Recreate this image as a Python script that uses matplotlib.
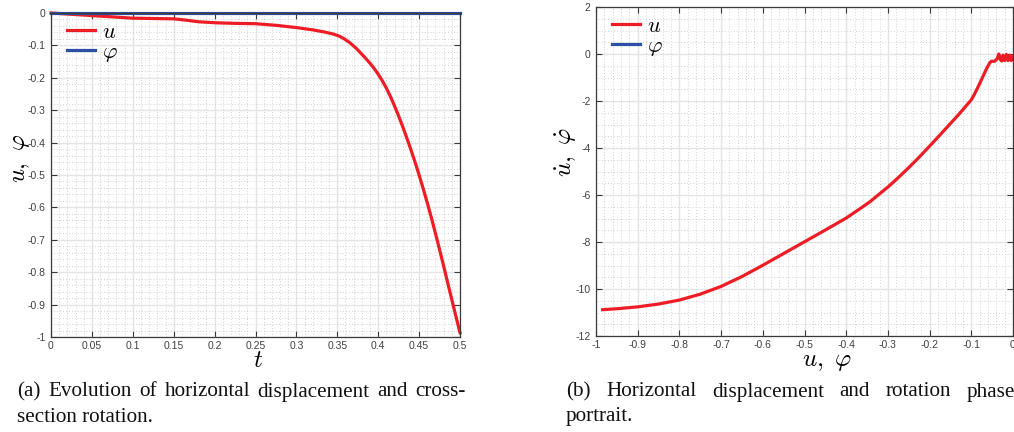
import matplotlib
matplotlib.use("Agg")
import matplotlib.pyplot as plt
from matplotlib.ticker import AutoMinorLocator

plt.rcParams['mathtext.fontset'] = 'cm'

# ---- data: panel (a) time evolution ----
t_vals = [0, 0.025, 0.05, 0.075, 0.1, 0.125, 0.15, 0.165, 0.18, 0.2, 0.225,
          0.25, 0.275, 0.3, 0.32, 0.335, 0.345, 0.352, 0.358, 0.3655, 0.3735,
          0.3818, 0.39, 0.395, 0.4, 0.405, 0.41, 0.415, 0.42, 0.425, 0.43,
          0.435, 0.44, 0.445, 0.45, 0.455, 0.46, 0.465, 0.47, 0.475, 0.48,
          0.485, 0.49, 0.495, 0.5]
u_vals = [0, -0.004, -0.008, -0.012, -0.016, -0.017, -0.018, -0.022, -0.027,
          -0.030, -0.032, -0.033, -0.038, -0.045, -0.052, -0.059, -0.065,
          -0.071, -0.079, -0.092, -0.110, -0.132, -0.155, -0.171, -0.189,
          -0.209, -0.232, -0.258, -0.287, -0.318, -0.351, -0.386, -0.422,
          -0.460, -0.500, -0.542, -0.586, -0.632, -0.680, -0.730, -0.781,
          -0.833, -0.885, -0.936, -0.987]
phi_vals = [0.0] * len(t_vals)

# ---- data: panel (b) phase portrait ----
u_phase = [-0.984, -0.95, -0.9, -0.85, -0.8, -0.75, -0.7, -0.65, -0.6, -0.55,
           -0.5, -0.45, -0.4, -0.37, -0.344, -0.3, -0.275, -0.248, -0.225,
           -0.2, -0.18, -0.162, -0.145, -0.13, -0.115, -0.1, -0.093, -0.086,
           -0.079, -0.072, -0.066, -0.06, -0.056, -0.052, -0.044, -0.038,
           -0.034, -0.030, -0.027, -0.024, -0.020, -0.016, -0.012, -0.008,
           -0.004, 0.0]
udot_phase = [-10.88, -10.84, -10.76, -10.64, -10.47, -10.22, -9.89, -9.47,
              -8.99, -8.49, -7.99, -7.49, -6.98, -6.62, -6.30, -5.66, -5.26,
              -4.80, -4.39, -3.92, -3.54, -3.19, -2.86, -2.57, -2.26, -1.95,
              -1.73, -1.48, -1.22, -0.95, -0.72, -0.51, -0.38, -0.31, -0.31,
              -0.20, 0.0, -0.25, -0.30, -0.05, -0.28, -0.02, -0.28, -0.05,
              -0.28, -0.10]
phi_phase = [0.0, 0.0]
phidot_phase = [0.0, 0.0]

# ---- ticks ----
a_xticks = [0, 0.05, 0.1, 0.15, 0.2, 0.25, 0.3, 0.35, 0.4, 0.45, 0.5]
a_xlabels = ['0', '0.05', '0.1', '0.15', '0.2', '0.25', '0.3', '0.35', '0.4', '0.45', '0.5']
a_yticks = [0, -0.1, -0.2, -0.3, -0.4, -0.5, -0.6, -0.7, -0.8, -0.9, -1]
a_ylabels = ['0', '-0.1', '-0.2', '-0.3', '-0.4', '-0.5', '-0.6', '-0.7', '-0.8', '-0.9', '-1']
b_xticks = [-1, -0.9, -0.8, -0.7, -0.6, -0.5, -0.4, -0.3, -0.2, -0.1, 0]
b_xlabels = ['-1', '-0.9', '-0.8', '-0.7', '-0.6', '-0.5', '-0.4', '-0.3', '-0.2', '-0.1', '0']
b_yticks = [2, 0, -2, -4, -6, -8, -10, -12]
b_ylabels = ['2', '0', '-2', '-4', '-6', '-8', '-10', '-12']

caption_a = ['(a) Evolution of horizontal displacement and cross-', 'section rotation.']
caption_b = ['(b) Horizontal displacement and rotation phase', 'portrait.']

RED = '#ee1c25'
BLUE = '#2c4fa3'
TICKC = '#404040'
SPINEC = '#3a3a3a'

W, H = 1014, 432
fig = plt.figure(figsize=(W / 100, H / 100), dpi=100)
axa = fig.add_axes([51 / W, 95 / H, 409 / W, 324 / H])
axb = fig.add_axes([596 / W, 96 / H, 417 / W, 329 / H])


def style(ax, xt, xl, yt, yl, xminor, yminor):
    ax.set_xticks(xt)
    ax.set_xticklabels(xl)
    ax.set_yticks(yt)
    ax.set_yticklabels(yl)
    ax.xaxis.set_minor_locator(AutoMinorLocator(xminor))
    ax.yaxis.set_minor_locator(AutoMinorLocator(yminor))
    ax.tick_params(which='major', direction='in', length=4, width=0.8,
                   top=True, right=True, colors=SPINEC, labelcolor=TICKC,
                   labelsize=7.5, pad=3)
    ax.tick_params(axis='y', which='major', pad=4)
    ax.tick_params(which='minor', length=0)
    for lab in ax.get_xticklabels() + ax.get_yticklabels():
        lab.set_fontfamily('Liberation Sans')
    ax.grid(which='major', color='#e4e4e4', lw=1.0, ls='-')
    ax.grid(which='minor', color='#c4c4c4', lw=0.6, ls=(0, (1, 2.5)))
    ax.set_axisbelow(True)
    for s in ax.spines.values():
        s.set_color(SPINEC)
        s.set_linewidth(0.9)


leg_kw = dict(loc='upper left', frameon=False, fontsize=16, handlelength=1.25,
              handletextpad=0.3, labelspacing=0.0, borderaxespad=0.0)

# panel (a)
axa.plot(t_vals, u_vals, color=RED, lw=2.3, label=r'$u$', clip_on=False)
axa.plot(t_vals, phi_vals, color=BLUE, lw=2.3, label=r'$\varphi$', clip_on=False)
axa.set_xlim(0, 0.5)
axa.set_ylim(-1, 0)
style(axa, a_xticks, a_xlabels, a_yticks, a_ylabels, 5, 5)
axa.set_xlabel(r'$t$', fontsize=18)
axa.xaxis.set_label_coords(0.507, -0.035)
axa.xaxis.label.set_va('top')
axa.set_ylabel(r'$u,\ \varphi$', fontsize=17.5)
axa.yaxis.set_label_coords(-0.047, 0.55)
axa.legend(bbox_to_anchor=(0.018, 1.0), **leg_kw)

# panel (b)
axb.plot(u_phase, udot_phase, color=RED, lw=2.3, label=r'$u$')
axb.plot(phi_phase, phidot_phase, color=BLUE, lw=2.3, label=r'$\varphi$')
axb.set_xlim(-1, 0)
axb.set_ylim(-12, 2)
style(axb, b_xticks, b_xlabels, b_yticks, b_ylabels, 5, 4)
axb.set_xlabel(r'$u,\ \varphi$', fontsize=18)
axb.xaxis.set_label_coords(0.555, -0.04)
axb.xaxis.label.set_va('top')
axb.set_ylabel(r'$\dot{u},\ \dot{\varphi}$', fontsize=18)
axb.yaxis.set_label_coords(-0.04, 0.56)
axb.legend(bbox_to_anchor=(0.018, 1.0), **leg_kw)

# captions: first line justified between x0 and x1, second line ragged
cap_kw = dict(fontsize=15.2, family='Liberation Serif', color='#111111',
              va='baseline', ha='left')
renderer = fig.canvas.get_renderer()


def justified(line, x0, x1, y):
    words = line.split(' ')
    texts = [fig.text(0, 1 - y / H, w, **cap_kw) for w in words]
    widths = [t.get_window_extent(renderer).width for t in texts]
    gap = (x1 - x0 - sum(widths)) / (len(words) - 1)
    x = x0
    for t, w in zip(texts, widths):
        t.set_x(x / W)
        x += w + gap


justified(caption_a[0], 17, 466, 396.5)
fig.text(17 / W, 1 - 421.5 / H, caption_a[1], **cap_kw)
justified(caption_b[0], 566, 1015, 396.5)
fig.text(566 / W, 1 - 421.5 / H, caption_b[1], **cap_kw)

fig.savefig('out.png', dpi=100)
